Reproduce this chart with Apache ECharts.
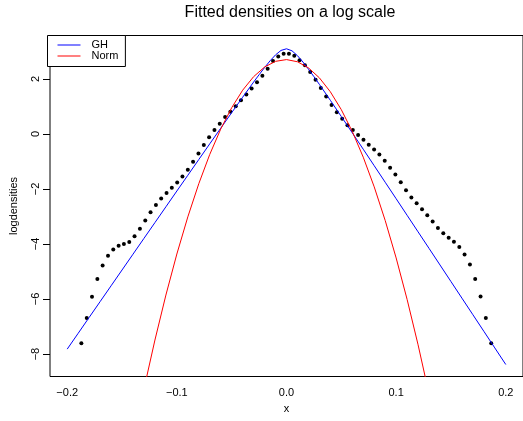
<!DOCTYPE html>
<html>
<head>
<meta charset="utf-8">
<script src="https://cdn.jsdelivr.net/npm/echarts@6/dist/echarts.min.js"></script>
<style>html,body{margin:0;padding:0;background:#fff;}#c{width:523px;height:421px;}</style>
</head>
<body>
<div id="c"></div>
<script>
// Empirical log densities (dots)
const dataX = [-0.1871,-0.1822,-0.1774,-0.1725,-0.1677,-0.1628,-0.1580,-0.1531,-0.1483,-0.1434,-0.1386,-0.1337,-0.1288,-0.1240,-0.1191,-0.1143,-0.1094,-0.1046,-0.0997,-0.0949,-0.0900,-0.0852,-0.0803,-0.0754,-0.0706,-0.0657,-0.0609,-0.0560,-0.0512,-0.0463,-0.0415,-0.0366,-0.0318,-0.0269,-0.0220,-0.0172,-0.0123,-0.0075,-0.0026,0.0022,0.0071,0.0119,0.0168,0.0216,0.0265,0.0313,0.0362,0.0411,0.0459,0.0508,0.0556,0.0605,0.0653,0.0702,0.0750,0.0799,0.0847,0.0896,0.0945,0.0993,0.1042,0.1090,0.1139,0.1187,0.1236,0.1284,0.1333,0.1381,0.1430,0.1479,0.1527,0.1576,0.1624,0.1673,0.1721,0.1770,0.1818,0.1867];
const dataY = [-7.61,-6.69,-5.92,-5.27,-4.78,-4.43,-4.20,-4.06,-4.00,-3.93,-3.72,-3.45,-3.15,-2.85,-2.58,-2.35,-2.15,-1.96,-1.77,-1.55,-1.30,-1.01,-0.71,-0.40,-0.12,0.14,0.37,0.61,0.80,1.00,1.22,1.43,1.65,1.88,2.11,2.37,2.65,2.81,2.91,2.91,2.84,2.68,2.49,2.25,1.97,1.67,1.36,1.05,0.79,0.55,0.31,0.14,-0.04,-0.21,-0.39,-0.57,-0.75,-0.98,-1.23,-1.48,-1.76,-2.05,-2.31,-2.52,-2.74,-2.96,-3.18,-3.42,-3.61,-3.77,-3.92,-4.11,-4.38,-4.75,-5.27,-5.91,-6.69,-7.61];

// GH fitted log density (blue line)
const ghX = [-0.20,-0.19,-0.18,-0.17,-0.16,-0.15,-0.14,-0.13,-0.12,-0.11,-0.10,-0.09,-0.08,-0.07,-0.06,-0.05,-0.04,-0.03,-0.025,-0.02,-0.015,-0.01,-0.005,0,0.005,0.01,0.015,0.02,0.025,0.03,0.04,0.05,0.06,0.07,0.08,0.09,0.10,0.11,0.12,0.13,0.14,0.15,0.16,0.17,0.18,0.19,0.20];
const ghY = [-7.820,-7.245,-6.669,-6.095,-5.520,-4.945,-4.371,-3.796,-3.223,-2.649,-2.076,-1.504,-0.932,-0.362,0.206,0.771,1.332,1.882,2.150,2.410,2.654,2.871,3.033,3.092,3.019,2.843,2.612,2.354,2.080,1.798,1.220,0.631,0.038,-0.558,-1.156,-1.756,-2.356,-2.957,-3.559,-4.160,-4.763,-5.365,-5.968,-6.571,-7.173,-7.777,-8.380];

// Normal fitted log density (red line)
const normX = [-0.13,-0.12,-0.11,-0.10,-0.09,-0.08,-0.07,-0.06,-0.05,-0.04,-0.03,-0.02,-0.01,0,0.01,0.02,0.03,0.04,0.05,0.06,0.07,0.08,0.09,0.10,0.11,0.12,0.13];
const normY = [-9.267,-7.490,-5.856,-4.365,-3.016,-1.810,-0.747,0.174,0.951,1.587,2.079,2.429,2.636,2.700,2.621,2.400,2.036,1.530,0.880,0.088,-0.847,-1.924,-3.145,-4.508,-6.013,-7.662,-9.453];

const xTicks = [-0.2,-0.1,0,0.1,0.2];
const yTicks = [-8,-6,-4,-2,0,2];

const zip = (a,b) => a.map((v,i) => [v, b[i]]);
const minus = s => s.replace('-', '\u2212');
const FONT = 'Liberation Sans, Arial, Helvetica, sans-serif';
const LINE_ICON = 'path://M0,0 H23 V1 H0 Z';

const chart = echarts.init(document.getElementById('c'), null, {renderer: 'canvas'});
chart.setOption({
  animation: false,
  backgroundColor: '#fff',
  textStyle: {fontFamily: FONT},
  title: {
    text: 'Fitted densities on a log scale',
    left: 290, top: 5, padding: 0, textAlign: 'center',
    textStyle: {fontSize: 16, fontWeight: 'normal', color: '#000', fontFamily: FONT}
  },
  legend: {
    data: [{name: 'GH', icon: LINE_ICON}, {name: 'Norm', icon: LINE_ICON}],
    orient: 'vertical',
    left: 47.5, top: 35.5,
    padding: [4, 7, 5, 10],
    itemWidth: 23, itemHeight: 11, itemGap: 0,
    borderColor: '#000', borderWidth: 1,
    backgroundColor: '#fff',
    textStyle: {fontSize: 11, color: '#000', fontFamily: FONT, padding: [0, 0, 0, 6]}
  },
  grid: {
    left: 47.5, top: 35.5, right: -8, bottom: 44.5,
    show: true, borderColor: '#000', borderWidth: 1, backgroundColor: 'transparent'
  },
  xAxis: {
    type: 'value', min: -0.2157, max: 0.2157,
    name: 'x', nameLocation: 'middle', nameGap: 27,
    nameTextStyle: {fontSize: 11, color: '#000', fontFamily: FONT},
    splitLine: {show: false},
    axisLine: {show: false, onZero: false},
    axisTick: {show: false},
    axisLabel: {
      customValues: xTicks, fontSize: 11, color: '#000', margin: 11, fontFamily: FONT,
      formatter: v => minus(Number(v).toFixed(1))
    }
  },
  yAxis: {
    type: 'value', min: -8.815, max: 3.575,
    name: 'logdensities', nameLocation: 'middle', nameGap: 31, nameRotate: 90,
    nameTextStyle: {fontSize: 11, color: '#000', fontFamily: FONT},
    splitLine: {show: false},
    axisLine: {show: false, onZero: false},
    axisTick: {show: true, customValues: yTicks, length: 7, lineStyle: {color: '#000', width: 1}},
    axisLabel: {
      customValues: yTicks, fontSize: 11, color: '#000', margin: 9, rotate: 90, fontFamily: FONT,
      formatter: v => minus(String(Math.round(v)))
    }
  },
  series: [
    {
      name: 'Data', type: 'scatter', data: zip(dataX, dataY),
      symbol: 'circle', symbolSize: 4, itemStyle: {color: '#000', opacity: 1}, z: 2
    },
    {
      name: 'GH', type: 'line', data: zip(ghX, ghY), symbol: 'none', showSymbol: false,
      lineStyle: {color: '#0000ff', width: 1}, itemStyle: {color: '#0000ff'}, z: 3
    },
    {
      name: 'Norm', type: 'line', data: zip(normX, normY), symbol: 'none', showSymbol: false,
      lineStyle: {color: '#ff0000', width: 1}, itemStyle: {color: '#ff0000'}, z: 4
    }
  ]
});
</script>
</body>
</html>
